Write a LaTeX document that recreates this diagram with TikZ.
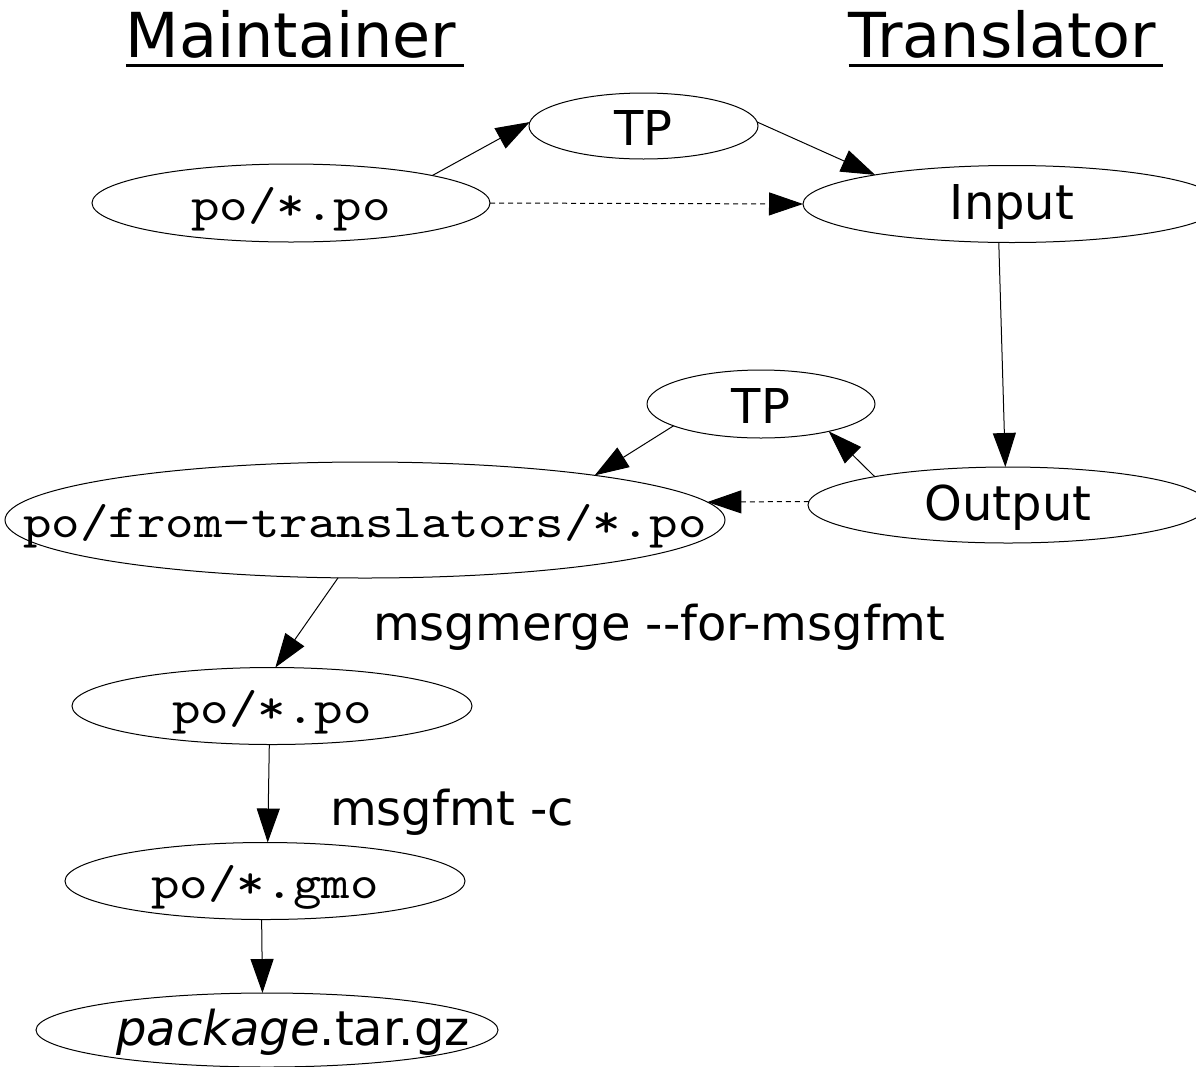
\documentclass[tikz,border=0pt]{standalone}
\usepackage{fontspec}
\setmainfont{DejaVu Sans}
\newfontfamily\codefont{lmmono10-regular.otf}[FakeStretch=1.14]
\newcommand{\code}[1]{{\fontsize{47.6}{56}\codefont #1}}
\newcommand{\headrule}[1]{\setbox0\hbox{#1}\rlap{\rule[-10pt]{\dimexpr\wd0+8pt\relax}{3.5pt}}\box0}
\usetikzlibrary{shapes.geometric,arrows.meta}

\tikzset{
  blob/.style={ellipse, draw, line width=1pt, inner sep=0pt, outer sep=0pt},
  flow/.style={-{Triangle[length=34pt,width=23pt]}, line width=1pt},
  hint/.style={flow, dash pattern=on 5pt off 4pt},
  lbl/.style={font=\fontsize{48}{56}\selectfont, inner sep=0pt},
  title/.style={font=\fontsize{62}{70}\selectfont, inner sep=0pt},
}

\begin{document}
\begin{tikzpicture}[x=1pt,y=-1pt]
\useasboundingbox (0,0) rectangle (1196,1066);

\node [title, anchor=base] (maint) at (291,57) {\headrule{Maintainer}};
\node [title, anchor=base] (trans) at (1002,57) {\headrule{Translator}};

\node [blob, minimum width=229pt, minimum height=66pt, label={[lbl,yshift=-2pt]center:TP}] (tpa) at (643.5,126) {};
\node [blob, minimum width=398pt, minimum height=78pt, label={[yshift=-6pt]center:\code{po/*.po}}] (poa) at (291,203) {};
\node [blob, minimum width=418pt, minimum height=77pt, label={[lbl,yshift=-3pt]center:Input}] (inp) at (1012,204) {};
\node [blob, minimum width=228pt, minimum height=68pt, label={[lbl,yshift=-2pt]center:TP}] (tpb) at (761,404) {};
\node [blob, minimum width=400pt, minimum height=76pt, label={[lbl,yshift=-3pt]center:Output}] (outp) at (1008,505) {};
\node [blob, minimum width=720pt, minimum height=116pt, label={[yshift=-6pt]center:\code{po/from-translators/*.po}}] (ftr) at (365,520) {};
\node [blob, minimum width=400pt, minimum height=77pt, label={[yshift=-6pt]center:\code{po/*.po}}] (pob) at (272,706) {};
\node [blob, minimum width=400pt, minimum height=77pt, label={[yshift=-6pt]center:\code{po/*.gmo}}] (gmo) at (265,881) {};
\node [blob, minimum width=462pt, minimum height=74pt] (pkg) at (267,1030) {};
\node [lbl] (pkgtxt) at (293,1032) {\textit{package}.tar.gz};

\draw [flow] (poa.11.6) -- (tpa.178);
\draw [flow] (tpa.2) -- (inp.168.5);
\draw [hint] (poa.east) -- (inp.west);
\draw [flow] (inp.251) -- (outp.94.5);
\draw [flow] (outp.168.4) -- (tpb.-22.8);
\draw [flow] (tpb.194.5) -- (ftr.11.2);
\draw [hint] (outp.179) -- (ftr.3.4);
\draw [flow] (ftr.245) -- (pob.85);
\draw [flow] (pob.266) -- (gmo.86);
\draw [flow] (gmo.265.5) -- (pkg.97.7);

\node [lbl, anchor=base west] (merge) at (373,640) {msgmerge -{}-for-msgfmt};
\node [lbl, anchor=base west] (fmt) at (330,825) {msgfmt -c};

\end{tikzpicture}
\end{document}
